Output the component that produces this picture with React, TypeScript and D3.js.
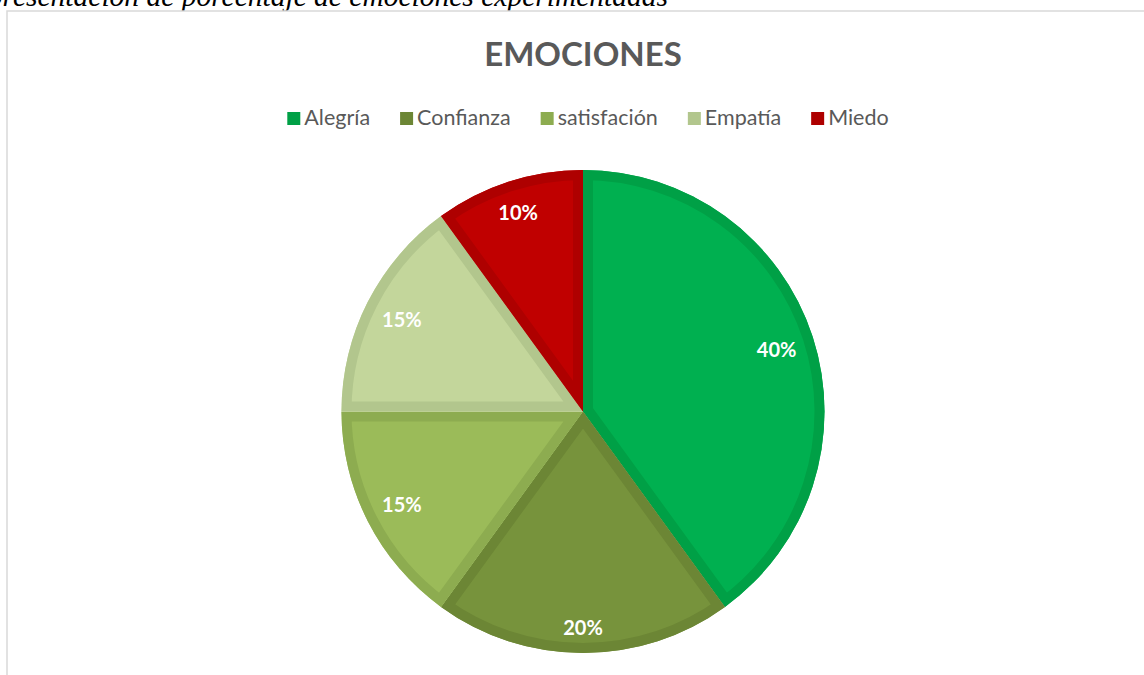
import React, { useEffect, useRef } from "react";
import * as d3 from "d3";

const categories = ["Alegría", "Confianza", "satisfación", "Empatía", "Miedo"];
const values = [40, 20, 15, 15, 10];
const fillColors = ["#00B050", "#77933C", "#9BBB59", "#C3D69B", "#C00000"];
const edgeColors = ["#00A046", "#6C8635", "#8DAC50", "#B2C68D", "#AE0000"];
const title = "EMOCIONES";
const caption = "Representación de porcentaje de emociones experimentadas";

export default function App() {
  const ref = useRef<SVGSVGElement | null>(null);

  useEffect(() => {
    const svg = d3.select(ref.current);
    svg.selectAll("*").remove();
    const font = "Lato, 'Noto Sans', sans-serif";

    // caption (cut at top, as in the reference)
    svg.append("text")
      .attr("x", 668).attr("y", 6)
      .attr("text-anchor", "end")
      .style("font-family", "'Liberation Serif', 'Times New Roman', 'DejaVu Serif', serif")
      .style("font-style", "italic")
      .style("font-size", "29.5px")
      .attr("fill", "#000")
      .text(caption);

    // chart border
    svg.append("rect")
      .attr("x", 7).attr("y", 11)
      .attr("width", 1300).attr("height", 1000)
      .attr("fill", "#fff")
      .attr("stroke", "#d9d9d9").attr("stroke-width", 1.5);

    // title
    svg.append("text")
      .attr("x", 583).attr("y", 66)
      .attr("text-anchor", "middle")
      .attr("font-family", font)
      .attr("font-weight", "bold")
      .attr("font-size", 33)
      .attr("fill", "#595959")
      .text(title);

    // legend
    const lg = svg.append("g");
    const items = categories.map((c, i) => {
      const g = lg.append("g");
      g.append("rect").attr("x", 0).attr("y", -13).attr("width", 13).attr("height", 13).attr("fill", edgeColors[i]);
      const t = g.append("text").attr("x", 17).attr("y", 0)
        .attr("font-family", font).attr("font-size", 21.5).attr("fill", "#595959").text(c);
      const w = 17 + (t.node() as SVGTextElement).getComputedTextLength();
      return { g, w };
    });
    const gap = 30;
    const total = items.reduce((s, d) => s + d.w, 0) + gap * (items.length - 1);
    let x = 588 - total / 2;
    items.forEach((d) => {
      d.g.attr("transform", `translate(${x},125)`);
      x += d.w + gap;
    });

    // pie
    const cx = 583, cy = 411.5, R = 241.5;
    const pie = d3.pie<number>().sort(null).value((d) => d);
    const arcs = pie(values);
    const arc = d3.arc<d3.PieArcDatum<number>>().innerRadius(0).outerRadius(R);
    const g = svg.append("g").attr("transform", `translate(${cx},${cy})`);
    const defs = svg.append("defs");
    arcs.forEach((a, i) => {
      const d = arc(a) as string;
      defs.append("clipPath").attr("id", `clip${i}`).append("path").attr("d", d);
      g.append("path").attr("d", d).attr("fill", fillColors[i]);
      g.append("path").attr("d", d)
        .attr("fill", "none")
        .attr("stroke", edgeColors[i])
        .attr("stroke-width", 20)
        .attr("stroke-linejoin", "miter")
        .attr("clip-path", `url(#clip${i})`);
    });
    const total2 = d3.sum(values);
    const inset = R - 16; // outer edge of label box (best-fit inside end)
    arcs.forEach((a, i) => {
      const t = g.append("text")
        .attr("text-anchor", "middle")
        .attr("dominant-baseline", "central")
        .attr("font-family", font)
        .attr("font-weight", "bold")
        .attr("font-size", 20)
        .attr("fill", "#fff")
        .text(`${Math.round((values[i] / total2) * 100)}%`);
      const hw = (t.node() as SVGTextElement).getComputedTextLength() / 2;
      const hh = 10;
      const ang = (a.startAngle + a.endAngle) / 2;
      const r = inset - (hw * Math.abs(Math.sin(ang)) + hh * Math.abs(Math.cos(ang)));
      t.attr("x", r * Math.sin(ang)).attr("y", -r * Math.cos(ang));
    });
  }, []);

  return (
    <svg
      ref={ref}
      width={1144}
      height={675}
      style={{ position: "absolute", left: 0, top: 0, background: "#fff" }}
    />
  );
}
